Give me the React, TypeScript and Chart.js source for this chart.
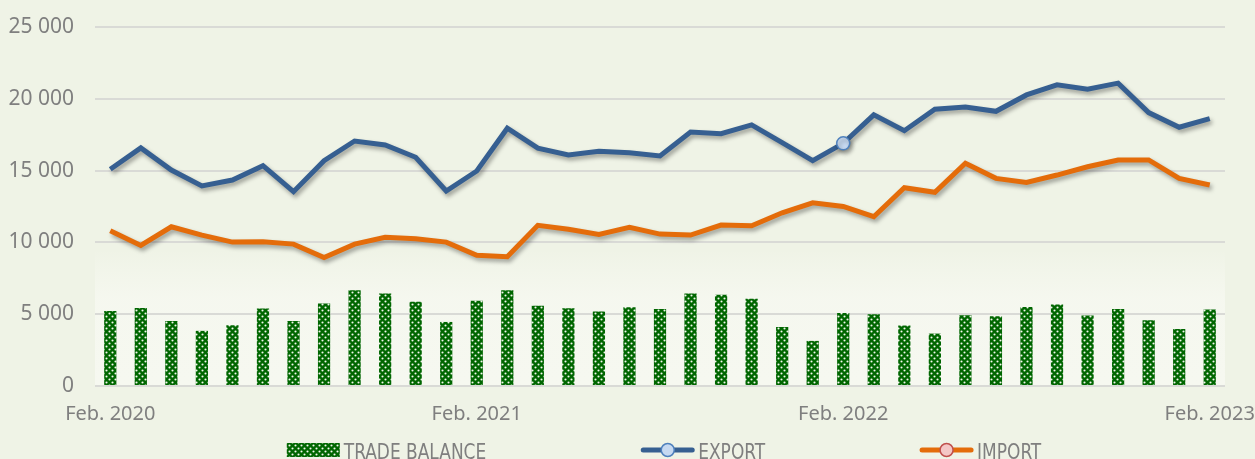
import React, { useEffect, useRef } from "react";
import { Chart, registerables } from "chart.js";

Chart.register(...registerables);

const months: string[] = [
  "Feb. 2020", "Mar. 2020", "Apr. 2020", "May 2020", "Jun. 2020", "Jul. 2020",
  "Aug. 2020", "Sep. 2020", "Oct. 2020", "Nov. 2020", "Dec. 2020", "Jan. 2021",
  "Feb. 2021", "Mar. 2021", "Apr. 2021", "May 2021", "Jun. 2021", "Jul. 2021",
  "Aug. 2021", "Sep. 2021", "Oct. 2021", "Nov. 2021", "Dec. 2021", "Jan. 2022",
  "Feb. 2022", "Mar. 2022", "Apr. 2022", "May 2022", "Jun. 2022", "Jul. 2022",
  "Aug. 2022", "Sep. 2022", "Oct. 2022", "Nov. 2022", "Dec. 2022", "Jan. 2023",
  "Feb. 2023",
];

const tradeBalance: number[] = [
  5230, 5440, 4530, 3840, 4230, 5400, 4530, 5750, 6670, 6440, 5860, 4460,
  5930, 6670, 5580, 5420, 5190, 5490, 5370, 6440, 6350, 6070, 4110, 3140,
  5090, 5000, 4210, 3650, 4930, 4860, 5510, 5680, 4910, 5370, 4580, 3970,
  5330,
];

const exportValues: number[] = [
  15090, 16580, 15040, 13930, 14340, 15340, 13530, 15690, 17060, 16790, 15930, 13580,
  14970, 17950, 16560, 16090, 16350, 16250, 16020, 17690, 17570, 18180, 16950, 15690,
  16900, 18880, 17780, 19270, 19430, 19130, 20270, 20970, 20670, 21090, 19040, 18020,
  18620,
];

const importValues: number[] = [
  10810, 9790, 11090, 10510, 10020, 10040, 9880, 8950, 9880, 10350, 10250, 10020,
  9110, 9000, 11190, 10910, 10560, 11050, 10580, 10510, 11210, 11160, 12060, 12760,
  12500, 11790, 13810, 13490, 15510, 14460, 14180, 14690, 15270, 15740, 15740, 14460,
  14000,
];

const seriesNames: string[] = ["TRADE BALANCE", "EXPORT", "IMPORT"];
const yMin = 0;
const yMax = 25000;
const yStep = 5000;
const highlightedExportIndex = 24;

const BG = "#eff3e6";
const TEXT = "#7f7f7f";
const GREEN = "#006600";
const BLUE = "#365f91";
const ORANGE = "#e46c0a";

function makePattern(ctx: CanvasRenderingContext2D): CanvasPattern | string {
  const tile = document.createElement("canvas");
  tile.width = 6;
  tile.height = 6;
  const t = tile.getContext("2d");
  if (!t) return GREEN;
  t.fillStyle = GREEN;
  t.fillRect(0, 0, 6, 6);
  t.fillStyle = "#f4f8ee";
  t.beginPath();
  t.arc(1.5, 1.5, 1.05, 0, Math.PI * 2);
  t.fill();
  t.beginPath();
  t.arc(4.5, 4.5, 1.05, 0, Math.PI * 2);
  t.fill();
  return ctx.createPattern(tile, "repeat") || GREEN;
}

function fmt(v: number): string {
  const s = Math.round(v).toString();
  return s.replace(/\B(?=(\d{3})+(?!\d))/g, " ");
}

export default function App() {
  const canvasRef = useRef<HTMLCanvasElement | null>(null);

  useEffect(() => {
    document.body.style.margin = "0";
    document.body.style.background = BG;
    const canvas = canvasRef.current;
    if (!canvas) return;
    const ctx = canvas.getContext("2d");
    if (!ctx) return;
    const pattern = makePattern(ctx);

    const bgPlugin = {
      id: "bgPlugin",
      beforeDraw(chart: any) {
        const c = chart.ctx;
        const area = chart.chartArea;
        const y = chart.scales.y;
        c.save();
        c.fillStyle = BG;
        c.fillRect(0, 0, chart.width, chart.height);
        const top = y.getPixelForValue(9500);
        const mid = y.getPixelForValue(6000);
        const bottom = y.getPixelForValue(0);
        const g = c.createLinearGradient(0, top, 0, bottom);
        g.addColorStop(0, "rgba(247,249,241,0)");
        g.addColorStop((mid - top) / (bottom - top), "rgba(246,248,240,0.9)");
        g.addColorStop(1, "rgba(246,248,240,1)");
        c.fillStyle = g;
        c.fillRect(area.left, top, area.right - area.left, bottom - top);
        c.restore();
      },
    };

    const shadowPlugin = {
      id: "shadowPlugin",
      beforeDatasetDraw(chart: any, args: any) {
        if (args.meta.type !== "line") return;
        const c = chart.ctx;
        c.save();
        c.shadowColor = "rgba(0,0,0,0.35)";
        c.shadowBlur = 4;
        c.shadowOffsetX = 2;
        c.shadowOffsetY = 3;
      },
      afterDatasetDraw(chart: any, args: any) {
        if (args.meta.type !== "line") return;
        chart.ctx.restore();
      },
    };

    const legendPlugin = {
      id: "customLegend",
      afterDraw(chart: any) {
        const c = chart.ctx;
        const area = chart.chartArea;
        const sx = 0.9;
        c.save();
        c.font = '21px "Liberation Sans Narrow", "DejaVu Sans Condensed", sans-serif';
        const items = chart.data.datasets.map((ds: any) => ({
          ds,
          w: c.measureText(ds.label).width * sx,
        }));
        const sw = 53;
        const gapText = 4;
        const gapItem = 155;
        const total =
          items.reduce((s: number, it: any) => s + sw + gapText + it.w, 0) +
          gapItem * (items.length - 1);
        let x = (area.left + area.right) / 2 - total / 2 + 4;
        const cy = 450;
        items.forEach((it: any) => {
          const ds = it.ds;
          if (ds.type === "bar") {
            c.fillStyle = pattern;
            c.fillRect(x, cy - 7, sw, 14);
          } else {
            c.strokeStyle = ds.borderColor;
            c.lineWidth = 5;
            c.lineCap = "round";
            c.beginPath();
            c.moveTo(x + 2, cy);
            c.lineTo(x + sw - 2, cy);
            c.stroke();
            c.beginPath();
            c.arc(x + sw / 2, cy, 6.5, 0, Math.PI * 2);
            c.fillStyle = ds.legendFill;
            c.fill();
            c.lineWidth = 1.5;
            c.strokeStyle = ds.legendBorder;
            c.stroke();
          }
          c.save();
          c.translate(x + sw + gapText, 459);
          c.scale(sx, 1);
          c.fillStyle = TEXT;
          c.textBaseline = "alphabetic";
          c.textAlign = "left";
          c.fillText(ds.label, 0, 0);
          c.restore();
          x += sw + gapText + it.w + gapItem;
        });
        c.restore();
      },
    };

    const chart = new Chart(canvas, {
      type: "bar",
      data: {
        labels: months,
        datasets: [
          {
            type: "bar",
            label: seriesNames[0],
            data: tradeBalance,
            backgroundColor: pattern as any,
            borderWidth: 0,
            categoryPercentage: 1,
            barPercentage: 0.4,
            order: 3,
          } as any,
          {
            type: "line",
            label: seriesNames[1],
            data: exportValues,
            borderColor: BLUE,
            borderWidth: 5,
            tension: 0,
            pointRadius: (c: any) => (c.dataIndex === highlightedExportIndex ? 6.5 : 0),
            pointBackgroundColor: "#c6d9f1",
            pointBorderColor: "#4f81bd",
            pointBorderWidth: 1.5,
            legendFill: "#c6d9f1",
            legendBorder: "#4f81bd",
            order: 1,
          } as any,
          {
            type: "line",
            label: seriesNames[2],
            data: importValues,
            borderColor: ORANGE,
            borderWidth: 5,
            tension: 0,
            pointRadius: 0,
            legendFill: "#f4c7c6",
            legendBorder: "#c0504d",
            order: 2,
          } as any,
        ],
      },
      options: {
        animation: false,
        responsive: true,
        maintainAspectRatio: false,
        events: [],
        layout: { padding: { top: 27, right: 30, bottom: 33, left: 0 } },
        plugins: {
          legend: { display: false },
          tooltip: { enabled: false },
        },
        scales: {
          x: {
            offset: true,
            grid: { display: false, drawTicks: false },
            border: { display: false },
            ticks: {
              autoSkip: false,
              maxRotation: 0,
              minRotation: 0,
              padding: 16,
              color: TEXT,
              font: { family: '"Noto Sans", sans-serif', size: 20 },
              callback: (_v: any, i: number) => (months[i].startsWith("Feb.") ? months[i] : ""),
            },
            afterFit: (s: any) => {
              s.height = 40;
              s.paddingLeft = 0;
              s.paddingRight = 0;
            },
          },
          y: {
            min: yMin,
            max: yMax,
            grid: { color: "#d9dad6", lineWidth: 2, drawTicks: false },
            border: { display: false },
            ticks: {
              stepSize: yStep,
              padding: 21,
              color: TEXT,
              font: { family: '"Noto Sans", sans-serif', size: 21 },
              callback: (v: any) => fmt(Number(v)),
            },
            afterFit: (s: any) => {
              s.width = 95;
              s.paddingTop = 0;
              s.paddingBottom = 0;
            },
          },
        },
      },
      plugins: [bgPlugin, shadowPlugin, legendPlugin],
    });

    return () => chart.destroy();
  }, []);

  return (
    <div style={{ width: 1255, height: 459, position: "relative", background: BG, overflow: "hidden" }}>
      <canvas ref={canvasRef} />
    </div>
  );
}
